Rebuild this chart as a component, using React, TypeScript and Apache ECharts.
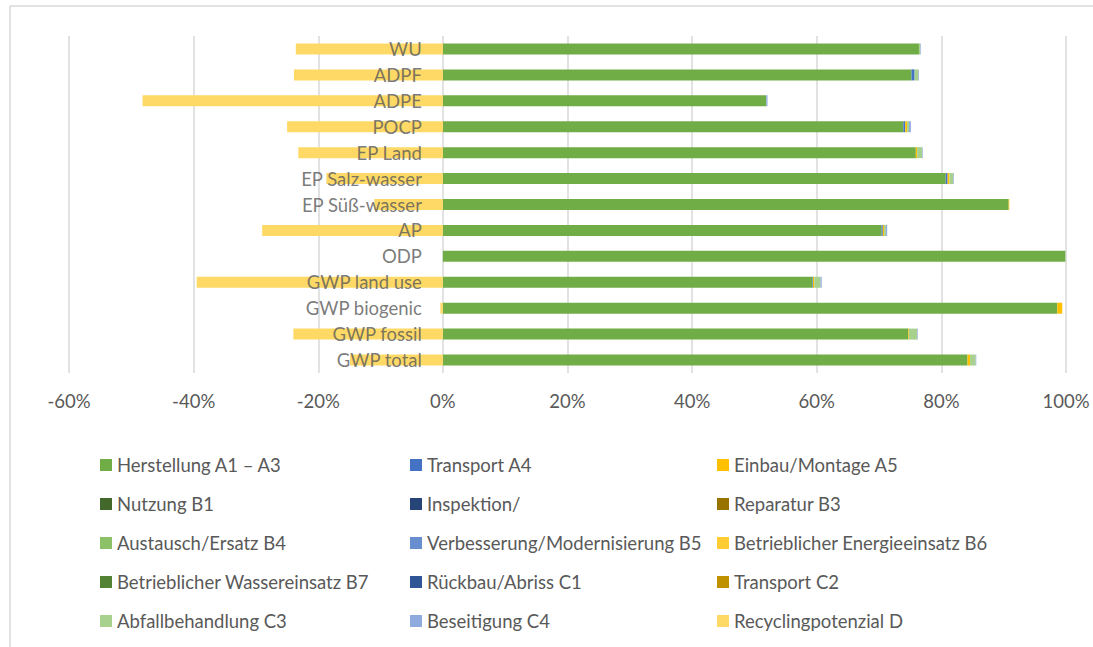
import React, { useEffect, useRef } from "react";
import * as echarts from "echarts";

// categories bottom -> top
const categories = [
  "GWP total",
  "GWP fossil",
  "GWP biogenic",
  "GWP land use",
  "ODP",
  "AP",
  "EP Süß-wasser",
  "EP Salz-wasser",
  "EP Land",
  "POCP",
  "ADPE",
  "ADPF",
  "WU",
];

const xTicks = [-60, 100, 20]; // min, max, interval (percent)

const herstellungA1A3 = [84.2, 74.7, 98.6, 59.3, 99.9, 70.4, 90.8, 80.7, 75.9, 73.9, 51.9, 75.2, 76.4];
const transportA4 = [0, 0, 0, 0.1, 0, 0.2, 0, 0.3, 0, 0.3, 0, 0.5, 0];
const einbauA5 = [0.4, 0.1, 0.8, 0.2, 0, 0.2, 0.1, 0.3, 0.2, 0.3, 0, 0, 0];
const nutzungB1 = [0, 0, 0, 0, 0, 0, 0, 0, 0, 0, 0, 0, 0];
const inspektion = [0, 0, 0, 0, 0, 0, 0, 0, 0, 0, 0, 0, 0];
const reparaturB3 = [0, 0, 0, 0, 0, 0, 0, 0, 0, 0, 0, 0, 0];
const austauschB4 = [0, 0, 0, 0, 0, 0, 0, 0, 0, 0, 0, 0, 0];
const verbesserungB5 = [0, 0, 0, 0, 0, 0, 0, 0, 0, 0, 0, 0, 0];
const energieB6 = [0, 0, 0, 0, 0, 0, 0, 0, 0, 0, 0, 0, 0];
const wasserB7 = [0, 0, 0, 0, 0, 0, 0, 0, 0, 0, 0, 0, 0];
const rueckbauC1 = [0, 0, 0, 0, 0, 0, 0, 0, 0, 0, 0, 0, 0];
const transportC2 = [0, 0, 0, 0, 0, 0, 0, 0, 0, 0, 0, 0, 0];
const abfallC3 = [0.9, 1.3, 0, 1.0, 0, 0.3, 0, 0.6, 0.8, 0.3, 0, 0.6, 0.2];
const beseitigungC4 = [0.1, 0.1, 0, 0.2, 0, 0.2, 0, 0.1, 0.1, 0.3, 0.2, 0.1, 0.1];
const recyclingD = [-14.9, -24.0, -0.4, -39.5, 0, -29.0, -11.0, -18.7, -23.2, -25.0, -48.2, -23.9, -23.6];

const seriesNames = [
  "Herstellung A1 – A3",
  "Transport A4",
  "Einbau/Montage A5",
  "Nutzung B1",
  "Inspektion/",
  "Reparatur B3",
  "Austausch/Ersatz B4",
  "Verbesserung/Modernisierung B5",
  "Betrieblicher Energieeinsatz B6",
  "Betrieblicher Wassereinsatz B7",
  "Rückbau/Abriss C1",
  "Transport C2",
  "Abfallbehandlung C3",
  "Beseitigung C4",
  "Recyclingpotenzial D",
];

const seriesData = [
  herstellungA1A3,
  transportA4,
  einbauA5,
  nutzungB1,
  inspektion,
  reparaturB3,
  austauschB4,
  verbesserungB5,
  energieB6,
  wasserB7,
  rueckbauC1,
  transportC2,
  abfallC3,
  beseitigungC4,
  recyclingD,
];

const seriesColors = [
  "#70AD47",
  "#4472C4",
  "#FFC000",
  "#43682B",
  "#264478",
  "#997300",
  "#8CC168",
  "#698ED0",
  "#FFCD33",
  "#548235",
  "#2F5597",
  "#BF9000",
  "#A9D18E",
  "#8FAADC",
  "#FFD966",
];

export default function App() {
  const ref = useRef<HTMLDivElement>(null);

  useEffect(() => {
    if (!ref.current) return;
    const chart = echarts.init(ref.current, null, { renderer: "svg" });
    const font = "Lato, Carlito, Calibri, sans-serif";
    const fs = 18.5;
    const legendCol = (idx: number[], left: number) => ({
      orient: "vertical",
      left,
      top: 455,
      padding: 0,
      itemWidth: 12,
      itemHeight: 12,
      itemGap: 19,
      icon: "rect",
      selectedMode: false,
      data: idx.map((i) => seriesNames[i]),
      textStyle: { fontFamily: font, fontSize: fs, color: "#595959", lineHeight: 20 },
    });
    const barSeries = seriesNames.map((name, i) => ({
      name,
      type: "bar",
      stack: "total",
      barWidth: 11,
      data: seriesData[i],
      itemStyle: { color: seriesColors[i] },
      emphasis: { disabled: true },
    }));
    chart.setOption({
      animation: false,
      backgroundColor: "#ffffff",
      graphic: [
        {
          type: "rect",
          shape: { x: 10, y: 6, width: 1200, height: 800 },
          style: { fill: "none", stroke: "#d9d9d9", lineWidth: 1.5 },
          silent: true,
        },
      ],
      legend: [
        legendCol([0, 3, 6, 9, 12], 100),
        legendCol([1, 4, 7, 10, 13], 410),
        legendCol([2, 5, 8, 11, 14], 717),
      ],
      grid: {
        left: 69,
        right: 27,
        top: 36,
        bottom: 274,
        containLabel: false,
        outerBoundsMode: "none",
      },
      xAxis: {
        type: "value",
        min: xTicks[0],
        max: xTicks[1],
        interval: xTicks[2],
        axisLine: { show: false },
        axisTick: { show: false },
        splitLine: { show: true, lineStyle: { color: "#d9d9d9", width: 1.5 } },
        axisLabel: {
          formatter: "{value}%",
          fontFamily: font,
          fontSize: fs,
          color: "#595959",
          margin: 18,
        },
      },
      yAxis: {
        type: "category",
        data: categories,
        axisLine: { show: false },
        axisTick: { show: false },
        axisLabel: { show: false },
      },
      series: [
        ...barSeries,
        {
          name: "__labels",
          type: "scatter",
          symbolSize: 0,
          z: 20,
          silent: true,
          itemStyle: { color: "rgba(0,0,0,0)" },
          data: categories.map((c) => [0, c]),
          label: {
            show: true,
            position: "left",
            distance: 21,
            formatter: (p: any) => p.value[1],
            fontFamily: font,
            fontSize: fs,
            color: "#595959",
          },
          emphasis: { disabled: true },
        },
      ],
    });
    return () => chart.dispose();
  }, []);

  return (
    <div
      ref={ref}
      style={{ position: "fixed", left: 0, top: 0, width: 1093, height: 647 }}
    />
  );
}
